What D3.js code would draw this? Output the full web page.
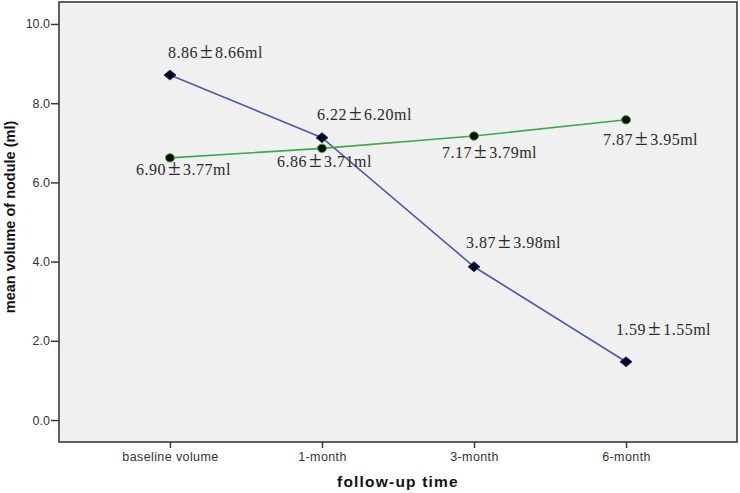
<!DOCTYPE html>
<html>
<head>
<meta charset="utf-8">
<script src="https://cdn.jsdelivr.net/npm/d3@7"></script>
<style>
  html, body { margin: 0; padding: 0; background: #ffffff; }
  svg { display: block; }
</style>
</head>
<body>
<svg id="chart" width="740" height="493"></svg>
<script>
// ---- data ----
const categories = ["baseline volume", "1-month", "3-month", "6-month"];
// plotted values
const blueValues  = [8.71, 7.13, 3.87, 1.47];
const greenValues = [6.62, 6.86, 7.17, 7.58];
// annotation texts (mean ± sd)
const blueMeans  = ["8.86", "6.22", "3.87", "1.59"];
const blueSDs    = ["8.66", "6.20", "3.98", "1.55"];
const greenMeans = ["6.90", "6.86", "7.17", "7.87"];
const greenSDs   = ["3.77", "3.71", "3.79", "3.95"];
const yTicks = [0, 2, 4, 6, 8, 10];
const xTitle = "follow-up time";
const yTitle = "mean volume of nodule (ml)";

// ---- layout ----
const W = 740, H = 493;
const plot = { left: 59, right: 737, top: 2, bottom: 442 };
// label offsets relative to each marker (manual placement as in reference)
const blueLabelOffsets  = [[-2, -17], [-5, -18], [-8, -19], [-10, -27]];
const greenLabelOffsets = [[-34, 17], [-45, 19], [-32, 22], [-23, 25]];

const svg = d3.select("#chart");

const x = d3.scalePoint()
  .domain(categories)
  .range([plot.left, plot.right])
  .padding(0.73);

const y = d3.scaleLinear()
  .domain([-0.555, 10.555])
  .range([plot.bottom, plot.top]);

// plot background
svg.append("rect")
  .attr("x", plot.left).attr("y", plot.top)
  .attr("width", plot.right - plot.left)
  .attr("height", plot.bottom - plot.top)
  .attr("fill", "#f0f0f0");

// axes
const axisColor = "#3a3a3a";
const yAxis = svg.append("g")
  .attr("transform", `translate(${plot.left},0)`)
  .call(d3.axisLeft(y).tickValues(yTicks).tickFormat(d3.format(".1f")).tickSize(8).tickPadding(1));
yAxis.select(".domain").remove();
yAxis.selectAll("line").attr("stroke", axisColor).attr("stroke-width", 1.5);
yAxis.selectAll("text")
  .attr("font-family", "'Liberation Sans', Arial, sans-serif")
  .attr("font-size", 12.5)
  .attr("fill", "#333");

const xAxis = svg.append("g")
  .attr("transform", `translate(0,${plot.bottom})`)
  .call(d3.axisBottom(x).tickSize(6).tickPadding(4));
xAxis.select(".domain").remove();
xAxis.selectAll("line").attr("stroke", axisColor).attr("stroke-width", 1.5);
xAxis.selectAll("text")
  .attr("font-family", "'Liberation Sans', Arial, sans-serif")
  .attr("font-size", 12.5)
  .attr("letter-spacing", "0.4px")
  .attr("fill", "#333");

// frame
svg.append("rect")
  .attr("x", plot.left).attr("y", plot.top)
  .attr("width", plot.right - plot.left)
  .attr("height", plot.bottom - plot.top)
  .attr("fill", "none")
  .attr("stroke", axisColor)
  .attr("stroke-width", 1.6);

// titles
svg.append("text")
  .attr("x", (plot.left + plot.right) / 2)
  .attr("y", 487)
  .attr("text-anchor", "middle")
  .attr("font-family", "'Liberation Sans', Arial, sans-serif")
  .attr("font-weight", "bold")
  .attr("font-size", 15.5)
  .attr("letter-spacing", "1.2px")
  .attr("fill", "#111")
  .text(xTitle);

svg.append("text")
  .attr("transform", `translate(15,217) rotate(-90)`)
  .attr("text-anchor", "middle")
  .attr("font-family", "'Liberation Sans', Arial, sans-serif")
  .attr("font-weight", "bold")
  .attr("font-size", 14.5)
  .attr("fill", "#111")
  .text(yTitle);

// series
const blueColor = "#4a5ca8";
const greenColor = "#3fa94c";

const line = d3.line()
  .x((d, i) => x(categories[i]))
  .y(d => y(d));

svg.append("path")
  .datum(blueValues)
  .attr("d", line)
  .attr("fill", "none")
  .attr("stroke", blueColor)
  .attr("stroke-width", 1.6);

svg.append("path")
  .datum(greenValues)
  .attr("d", line)
  .attr("fill", "none")
  .attr("stroke", greenColor)
  .attr("stroke-width", 1.6);

// markers
svg.append("g").selectAll("path")
  .data(greenValues)
  .join("path")
  .attr("d", "M-4.5,0A4.5,4.2 0 1,0 4.5,0A4.5,4.2 0 1,0 -4.5,0Z")
  .attr("transform", (d, i) => `translate(${x(categories[i])},${y(d)})`)
  .attr("fill", "#050f05")
  .attr("stroke", greenColor)
  .attr("stroke-width", 1);

svg.append("g").selectAll("path")
  .data(blueValues)
  .join("path")
  .attr("d", "M-6,0L0,-5L6,0L0,5Z")
  .attr("transform", (d, i) => `translate(${x(categories[i])},${y(d)})`)
  .attr("fill", "#05051f")
  .attr("stroke", "#2a3570")
  .attr("stroke-width", 1);

// annotations
function addLabels(values, means, sds, offsets) {
  const g = svg.append("g")
    .attr("font-family", "'Liberation Serif', 'Times New Roman', serif")
    .attr("font-size", 16)
    .attr("letter-spacing", "0.5px")
    .attr("fill", "#2a2a2a");
  values.forEach((v, i) => {
    const t = g.append("text")
      .attr("x", x(categories[i]) + offsets[i][0])
      .attr("y", y(v) + offsets[i][1]);
    t.append("tspan").text(means[i]);
    t.append("tspan").attr("dx", 2).attr("font-size", 23).attr("font-weight", 300).text("±");
    t.append("tspan").attr("dx", 2).text(sds[i] + "ml");
  });
}
addLabels(blueValues, blueMeans, blueSDs, blueLabelOffsets);
addLabels(greenValues, greenMeans, greenSDs, greenLabelOffsets);
</script>
</body>
</html>
